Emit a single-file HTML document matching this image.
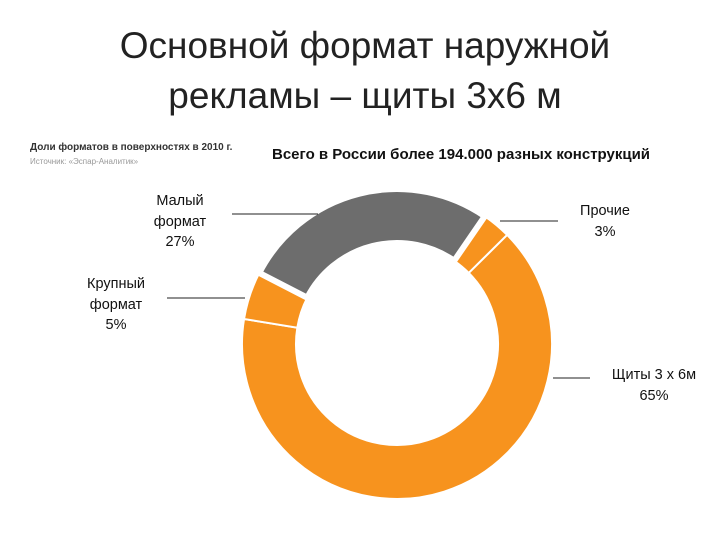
<!DOCTYPE html>
<html><head><meta charset="utf-8"><style>
body{margin:0;width:720px;height:540px;background:#fff;overflow:hidden;position:relative;font-family:"Liberation Sans","DejaVu Sans",sans-serif}
.t{position:absolute;left:0;width:730px;text-align:center;font-size:37px;color:#222;line-height:50px}
.lb{position:absolute;text-align:center;font-size:14.5px;line-height:20.5px;color:#111}
</style></head><body>
<div class="t" style="top:21px">Основной формат наружной<br>рекламы – щиты 3х6 м</div>
<div style="position:absolute;left:30px;top:142px;font-size:10px;font-weight:bold;color:#333">Доли форматов в поверхностях в 2010 г.</div>
<div style="position:absolute;left:30px;top:157px;font-size:8px;color:#999">Источник: «Эспар-Аналитик»</div>
<div style="position:absolute;left:272px;top:146px;font-size:15px;font-weight:bold;color:#111">Всего в России более 194.000 разных конструкций</div>
<svg id="c" width="720" height="540" style="position:absolute;left:0;top:0"></svg>
<div class="lb" style="left:140px;top:191px;width:80px">Малый<br>формат<br>27%</div>
<div class="lb" style="left:565px;top:201px;width:80px">Прочие<br>3%</div>
<div class="lb" style="left:76px;top:274px;width:80px">Крупный<br>формат<br>5%</div>
<div class="lb" style="left:594px;top:365px;width:120px">Щиты 3 х 6м<br>65%</div>
<script>
const categories=["Прочие","Щиты 3х6","Крупный формат","Малый формат"];
const values=[3,65,5,27];
const colors=["#f7931e","#f7931e","#f7931e","#6d6d6d"];
const strokeW=[2,2,2,6];
const cx=397,cy=344,R=155,r=101,start=34.5;
const svg=document.getElementById('c');
const NS="http://www.w3.org/2000/svg";
const total=values.reduce((a,b)=>a+b,0);
function pt(a,rad){const t=a*Math.PI/180;return [cx+rad*Math.sin(t),cy-rad*Math.cos(t)];}
let a=start;
values.forEach((v,i)=>{
 const sw=v/total*360,a2=a+sw;
 const p1=pt(a,R),p2=pt(a2,R),p3=pt(a2,r),p4=pt(a,r),lg=sw>180?1:0;
 const p=document.createElementNS(NS,'path');
 p.setAttribute('d',`M${p1}A${R},${R} 0 ${lg} 1 ${p2}L${p3}A${r},${r} 0 ${lg} 0 ${p4}Z`);
 p.setAttribute('fill',colors[i]);p.setAttribute('stroke','#fff');p.setAttribute('stroke-width',strokeW[i]);
 
 
 svg.appendChild(p);a=a2;
});
[[232,214,318,214],[500,221,558,221],[167,298,245,298],[553,378,590,378]].forEach((l,i)=>{
 const e=document.createElementNS(NS,'line');
 e.setAttribute('x1',l[0]);e.setAttribute('y1',l[1]);e.setAttribute('x2',l[2]);e.setAttribute('y2',l[3]);
 e.setAttribute('stroke','#222');e.setAttribute('stroke-width','1');
 
 
 svg.appendChild(e);
});
</script>
</body></html>
